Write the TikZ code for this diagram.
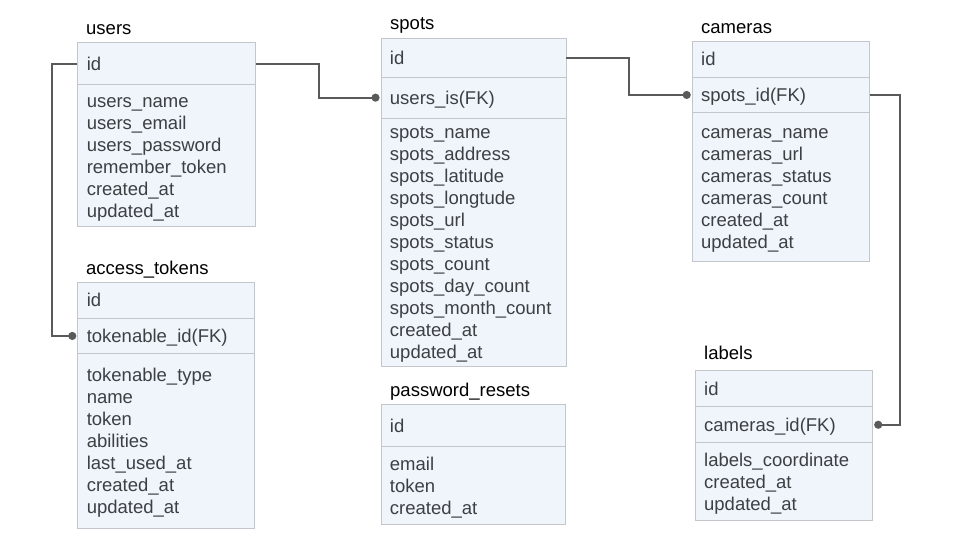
\documentclass[tikz,border=0pt]{standalone}
\usepackage{fontspec}
\setmainfont{Liberation Sans}
\usetikzlibrary{arrows.meta}
\definecolor{boxfill}{HTML}{F0F5FC}
\definecolor{boxline}{HTML}{C3C7CC}
\definecolor{txt}{HTML}{3C4043}
\definecolor{conncol}{HTML}{5A5A5A}
\newcommand\tS{\rule{0pt}{17pt}}
\newcommand\bS{\rule[-3.6pt]{0pt}{0pt}}
\begin{document}
\begin{tikzpicture}[x=1pt,y=-1pt,
  cell/.style={draw=boxline, fill=boxfill, line width=0.9pt, anchor=north west,
    inner xsep=9pt, inner ysep=0pt, align=left, text=txt,
    font=\fontsize{18.5}{22}\selectfont},
  ttl/.style={anchor=base west, inner sep=0pt, text=black, font=\fontsize{18.5}{22}\selectfont},
  conn/.style={draw=conncol, line width=2pt},
  fk/.style={conn, -{Circle[length=8pt]}, shorten >=1pt}]
\useasboundingbox[fill=white] (0,0) rectangle (960,540);

% users
\node[ttl] (users-t) at (86,35) {users};
\node[cell, minimum width=177.4pt, text width=159.4pt, minimum height=42pt] (users-id) at (77.3,42.3) {\tS id\bS};
\node[cell, minimum width=177.4pt, text width=159.4pt, minimum height=141.4pt] (users-f) at (77.3,84.3) {\tS users\_name\\users\_email\\users\_password\\remember\_token\\created\_at\\updated\_at\bS};

% access_tokens
\node[ttl] (at-t) at (86,274) {access\_tokens};
\node[cell, minimum width=177pt, text width=159pt, minimum height=36pt] (at-id) at (77.3,281.7) {\tS id\bS};
\node[cell, minimum width=177pt, text width=159pt, minimum height=35.6pt] (at-fk) at (77.3,317.7) {\tS tokenable\_id(FK)\bS};
\node[cell, minimum width=177pt, text width=159pt, minimum height=175pt] (at-f) at (77.3,353.3) {\tS tokenable\_type\\name\\token\\abilities\\last\_used\_at\\created\_at\\updated\_at\bS};

% spots
\node[ttl] (spots-t) at (390,29.5) {spots};
\node[cell, minimum width=185pt, text width=167pt, minimum height=39pt] (spots-id) at (380.5,37.7) {\tS id\bS};
\node[cell, minimum width=185pt, text width=167pt, minimum height=41pt] (spots-fk) at (380.5,76.7) {\tS users\_is(FK)\bS};
\node[cell, minimum width=185pt, text width=167pt, minimum height=248.3pt] (spots-f) at (380.5,117.7) {\tS spots\_name\\spots\_address\\spots\_latitude\\spots\_longtude\\spots\_url\\spots\_status\\spots\_count\\spots\_day\_count\\spots\_month\_count\\created\_at\\updated\_at\bS};

% password_resets
\node[ttl] (pr-t) at (390,396.7) {password\_resets};
\node[cell, minimum width=184.5pt, text width=166.5pt, minimum height=42pt] (pr-id) at (380.5,404.3) {\tS id\bS};
\node[cell, minimum width=184.5pt, text width=166.5pt, minimum height=77.7pt] (pr-f) at (380.5,446.3) {\tS email\\token\\created\_at\bS};

% cameras
\node[ttl] (cam-t) at (701,33.3) {cameras};
\node[cell, minimum width=177pt, text width=159pt, minimum height=36pt] (cam-id) at (691.7,40.7) {\tS id\bS};
\node[cell, minimum width=177pt, text width=159pt, minimum height=35.6pt] (cam-fk) at (691.7,76.7) {\tS spots\_id(FK)\bS};
\node[cell, minimum width=177pt, text width=159pt, minimum height=148.4pt] (cam-f) at (691.7,112.3) {\tS cameras\_name\\cameras\_url\\cameras\_status\\cameras\_count\\created\_at\\updated\_at\bS};

% labels
\node[ttl] (lab-t) at (704,359.3) {labels};
\node[cell, minimum width=177.6pt, text width=159.6pt, minimum height=36pt] (lab-id) at (694.7,370.3) {\tS id\bS};
\node[cell, minimum width=177.6pt, text width=159.6pt, minimum height=36pt] (lab-fk) at (694.7,406.3) {\tS cameras\_id(FK)\bS};
\node[cell, minimum width=177.6pt, text width=159.6pt, minimum height=77.7pt] (lab-f) at (694.7,442.3) {\tS labels\_coordinate\\created\_at\\updated\_at\bS};

% connectors
\draw[fk] (users-id.east) -- ([xshift=63pt]users-id.east) |- (spots-fk.west);
\draw[fk] (spots-id.east) -- ([xshift=63pt]spots-id.east) |- (cam-fk.west);
\draw[fk] (cam-fk.east) -- ([xshift=30pt]cam-fk.east) |- (lab-fk.east);
\draw[fk] (users-id.west) -- ([xshift=-25pt]users-id.west) |- (at-fk.west);
\end{tikzpicture}
\end{document}
